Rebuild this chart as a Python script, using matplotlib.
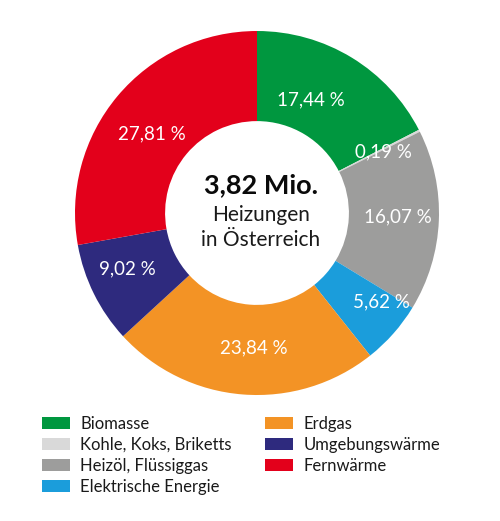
import matplotlib.pyplot as plt
from matplotlib.patches import Patch
import numpy as np

# data
labels = ['Biomasse', 'Kohle, Koks, Briketts', 'Heizöl, Flüssiggas',
          'Elektrische Energie', 'Erdgas', 'Umgebungswärme', 'Fernwärme']
shares = [17.44, 0.19, 16.07, 5.62, 23.84, 9.02, 27.81]
colors = ['#00973f', '#d9d9d9', '#9d9d9c', '#1b9ddb', '#f39325', '#2e2a7e', '#e3001b']

plt.rcParams['font.family'] = ['Lato', 'DejaVu Sans']

fig = plt.figure(figsize=(5.0, 5.21), dpi=100)
ax = fig.add_axes([0.15, 0.2418, 0.728, 0.6987])

wedges, _ = ax.pie(shares, colors=colors, startangle=90, counterclock=False,
                   radius=1.0, wedgeprops=dict(width=0.495, linewidth=0))

# percentage labels near the mid-angle of each wedge
theta = 90 - 360 * (np.cumsum(shares) - np.array(shares) / 2) / sum(shares)
nudge = [6, -1, 1, 6, 3, -3, 3]          # small angular shifts (deg)
r_lab = [0.69, 0.77, 0.775, 0.84, 0.74, 0.775, 0.725]
for t, dt, r, v in zip(theta, nudge, r_lab, shares):
    a = np.radians(t + dt)
    ax.text(r * np.cos(a), r * np.sin(a), f'{v:.2f} %'.replace('.', ','),
            ha='center', va='center', color='white', fontsize=13.5)

ax.text(0.02, 0.155, '3,82 Mio.', ha='center', va='center', fontsize=19.5,
        fontweight='bold', color='#0a0a0a')
ax.text(0.02, -0.01, 'Heizungen', ha='center', va='center', fontsize=15, color='#1a1a1a')
ax.text(0.02, -0.15, 'in Österreich', ha='center', va='center', fontsize=15, color='#1a1a1a')

ax.set_xlim(-1, 1)
ax.set_ylim(-1, 1)
ax.set_aspect('equal')
ax.axis('off')

handles = [Patch(facecolor=c, edgecolor='none') for c in colors]
fig.legend(handles, labels, ncol=2, loc='upper left', bbox_to_anchor=(0.084, 0.202),
           frameon=False, fontsize=12, handlelength=1.65, handleheight=0.8,
           handletextpad=0.65, labelspacing=0.3, columnspacing=2.0,
           borderpad=0, borderaxespad=0, labelcolor='#1a1a1a')

fig.savefig('out.png', dpi=100)
